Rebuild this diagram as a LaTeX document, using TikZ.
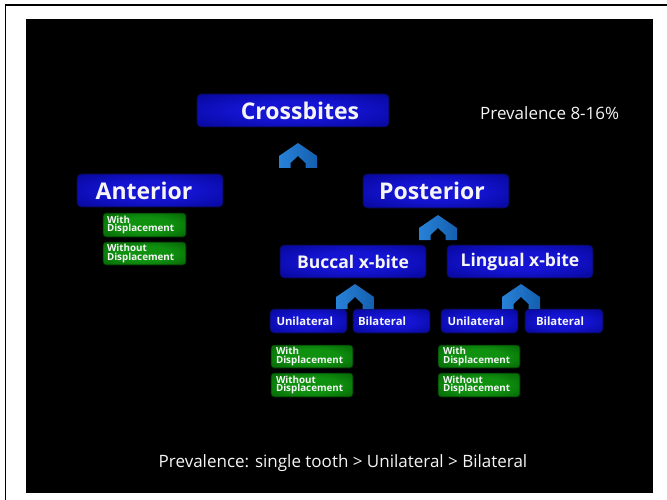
\documentclass[tikz,border=0pt]{standalone}
\usepackage{fontspec}
\setmainfont{Open Sans}
\definecolor{bin}{RGB}{20,20,210}
\definecolor{bout}{RGB}{0,0,125}
\definecolor{bline}{RGB}{10,10,50}
\definecolor{gin}{RGB}{15,145,15}
\definecolor{gout}{RGB}{0,75,0}
\definecolor{gline}{RGB}{5,30,5}
\definecolor{chl}{RGB}{40,130,215}
\definecolor{chr}{RGB}{20,95,175}
\definecolor{txt}{RGB}{245,245,245}
\pgfdeclareradialshading{blueglow}{\pgfpoint{0bp}{0bp}}{color(0bp)=(bin); color(14bp)=(bin); color(47bp)=(bout); color(50bp)=(bout)}
\pgfdeclareradialshading{greenglow}{\pgfpoint{0bp}{0bp}}{color(0bp)=(gin); color(16bp)=(gin); color(47bp)=(gout); color(50bp)=(gout)}
\begin{document}
\begin{tikzpicture}[x=1pt,y=-1pt,
  bluebox/.style={rounded corners=4pt, draw=bline, line width=0.6pt, shading=blueglow, text=txt, inner sep=0pt},
  greenbox/.style={rounded corners=3pt, draw=gline, line width=0.6pt, shading=greenglow, text=txt, inner sep=0pt,
     font=\fontsize{9.8}{8.8}\selectfont\bfseries, align=left},
  bigtext/.style={font=\fontsize{23}{23}\selectfont\bfseries},
  midtext/.style={font=\fontsize{17.5}{17.5}\selectfont\bfseries},
  smalltext/.style={font=\fontsize{11.3}{11.3}\selectfont\bfseries, align=left},
  note/.style={text=txt, font=\fontsize{17}{17}\selectfont, inner sep=0pt},
  chev/.pic={\shade[left color=chl, right color=chr]
     (-19,25) -- (-19,13) -- (0,0) -- (19,13) -- (19,25) -- (7.5,25) -- (7.5,20) -- (0,13) -- (-7.5,20) -- (-7.5,25) -- cycle;}
]
\useasboundingbox (0,0) rectangle (667,500);
\fill[white] (0,0) rectangle (667,500);
\draw[line width=1.6pt] (5.5,500) -- (5.5,5) -- (667,5);
\fill[black] (26,19) rectangle (653,493);

% level 0
\node[bluebox, bigtext, minimum width=192, minimum height=33] (cross) at (293,110.5) {\hspace*{14pt}Crossbites};
\node[note, anchor=west] (prev) at (480,113) {Prevalence 8-16\%};

% level 1
\node[bluebox, bigtext, minimum width=146, minimum height=33] (ant) at (150,190.5) {Anterior\hspace*{12pt}};
\node[bluebox, bigtext, minimum width=146, minimum height=34] (post) at (436,191) {Posterior\hspace*{8pt}};

\node[greenbox, minimum width=83, minimum height=24, text width=75] (aw) at (144.5,225) {With\\Displacement};
\node[greenbox, minimum width=83, minimum height=23, text width=75] (awo) at (144.5,253.5) {Without\\Displacement};

% level 2
\node[bluebox, midtext, minimum width=146, minimum height=33] (buc) at (353,261.5) {Buccal x-bite};
\node[bluebox, midtext, minimum width=146, minimum height=33] (lin) at (520,261.5) {Lingual x-bite};

% level 3
\node[bluebox, smalltext, minimum width=77, minimum height=24, text width=64] (u1) at (308.5,321) {Unilateral};
\node[bluebox, smalltext, minimum width=77, minimum height=24, text width=67] (b1) at (391.5,321) {Bilateral};
\node[bluebox, smalltext, minimum width=77, minimum height=24, text width=64] (u2) at (479.5,321) {Unilateral};
\node[bluebox, smalltext, minimum width=78, minimum height=24, text width=56] (b2) at (564,321) {Bilateral};

\node[greenbox, minimum width=82, minimum height=23, text width=72] (bw) at (312,356.5) {With\\Displacement};
\node[greenbox, minimum width=82, minimum height=24, text width=72] (bwo) at (312,385) {Without\\Displacement};
\node[greenbox, minimum width=82, minimum height=23, text width=72] (lw) at (479,356.5) {With\\Displacement};
\node[greenbox, minimum width=82, minimum height=24, text width=72] (lwo) at (479,385) {Without\\Displacement};

% chevrons
\pic at (298,143) {chev};
\pic at (438,215) {chev};
\pic at (355,284) {chev};
\pic at (521,284) {chev};

\node[note] (bottom) at (343,463) {Prevalence: single tooth > Unilateral > Bilateral};
\end{tikzpicture}
\end{document}
